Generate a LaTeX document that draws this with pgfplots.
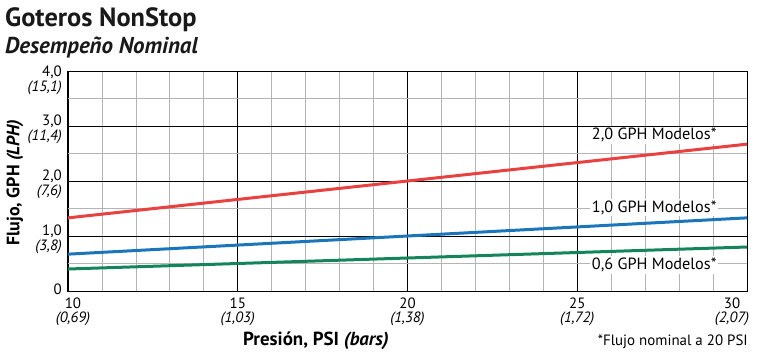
\documentclass[border=0pt]{standalone}
\usepackage{fontspec}
\setmainfont{PT Sans}
\usepackage{pgfplots}
\pgfplotsset{compat=1.18}
\definecolor{lred}{HTML}{E8413F}
\definecolor{lblue}{HTML}{1A75BB}
\definecolor{lgreen}{HTML}{14855A}
\definecolor{mgray}{HTML}{B4B4B4}
\newcommand{\tf}{\fontsize{15}{14.5}\selectfont}
\begin{document}
\begin{tikzpicture}[x=1bp,y=1bp]
\useasboundingbox (-68,-60) rectangle (696,291);
\begin{axis}[
  at={(0,0)}, anchor=south west,
  scale only axis, width=679bp, height=220bp,
  xmin=10, xmax=30, ymin=0, ymax=4,
  xtick={10,15,20,25,30}, minor x tick num=4,
  ytick={0,1,2,3,4}, minor y tick num=1,
  grid=both,
  major grid style={black, line width=0.8bp},
  minor grid style={mgray, line width=0.8bp},
  tick style={draw=none},
  axis line style={black, line width=1bp},
  /pgf/number format/assume math mode=true,
  xticklabels={
    {\rule{10bp}{0pt}10\\\rule{10bp}{0pt}\textit{(0,69)}},
    {15\\\textit{(1,03)}},
    {20\\\textit{(1,38)}},
    {25\\\textit{(1,72)}},
    {30\rule{30bp}{0pt}\\\textit{(2,07)}\rule{30bp}{0pt}}},
  yticklabels={
    {\rule{0pt}{14bp}0},
    {1,0\\\textit{(3,8)}},
    {2,0\\\textit{(7,6)}},
    {3,0\\\textit{(11,4)}},
    {\rule{0pt}{16.5bp}4,0\\\textit{(15,1)}}},
  xticklabel style={align=center, font=\tf, anchor=north, yshift=-3bp},
  yticklabel style={align=right, font=\tf, anchor=north east, inner sep=1bp, yshift=12bp, xshift=-5bp},
]
\addplot[lred, line width=3bp] coordinates {(10,1.33) (20,2.0) (30,2.67)};
\addplot[lblue, line width=3bp] coordinates {(10,0.67) (20,1.0) (30,1.33)};
\addplot[lgreen, line width=3bp] coordinates {(10,0.40) (20,0.60) (30,0.80)};
\node[anchor=east, fill=white, inner sep=1.5bp, font=\fontsize{16.3}{19}\selectfont] at (axis cs:29.15,2.836) {2,0 GPH Modelos*};
\node[anchor=east, fill=white, inner sep=1.5bp, font=\fontsize{16.3}{19}\selectfont] at (axis cs:29.15,1.51) {1,0 GPH Modelos*};
\node[anchor=east, fill=white, inner sep=1.5bp, font=\fontsize{16.3}{19}\selectfont] at (axis cs:29.15,0.473) {0,6 GPH Modelos*};
\end{axis}
\node[anchor=base west, inner sep=0pt, font=\fontsize{26.5}{30}\selectfont\bfseries, text=black!90] at (-63,265) {Goteros NonStop};
\node[anchor=base west, inner sep=0pt, font=\fontsize{23}{26}\selectfont\bfseries\itshape, text=black!90] at (-63,238) {Desempeño Nominal};
\node[rotate=90, inner sep=0pt, font=\fontsize{18}{22}\selectfont\bfseries] at (-53,108.5) {Flujo, GPH \textit{(LPH)}};
\node[anchor=base, inner sep=0pt, font=\fontsize{19}{22}\selectfont\bfseries] at (248,-54) {Presión, PSI \textit{(bars)}};
\node[anchor=base east, inner sep=0pt, font=\fontsize{15}{18}\selectfont] at (680,-54) {*Flujo nominal a 20 PSI};
\end{tikzpicture}
\end{document}
